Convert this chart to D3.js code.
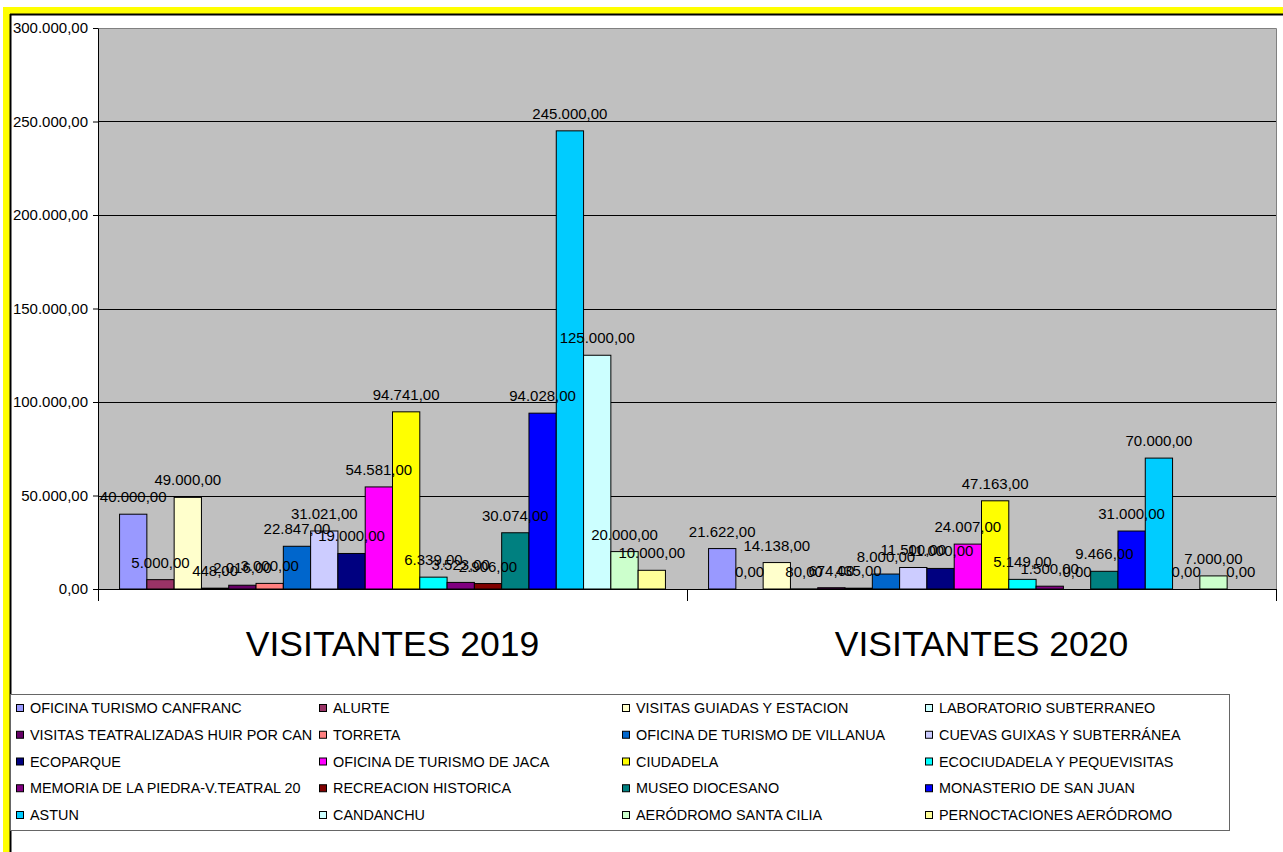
<!DOCTYPE html>
<html>
<head>
<meta charset="utf-8">
<script src="https://cdn.jsdelivr.net/npm/d3@7"></script>
<style>
  body { margin: 0; background: #fff; }
  svg { display: block; font-family: "Liberation Sans", Arial, sans-serif; }
</style>
</head>
<body>
<div id="chart"></div>
<script>
// Categories (the two years)
var categories = ["VISITANTES 2019", "VISITANTES 2020"];

// Series, in legend order
var seriesNames = [
  "OFICINA TURISMO CANFRANC", "ALURTE", "VISITAS GUIADAS Y ESTACION", "LABORATORIO SUBTERRANEO",
  "VISITAS TEATRALIZADAS HUIR POR CAN", "TORRETA", "OFICINA DE TURISMO DE VILLANUA", "CUEVAS GUIXAS Y SUBTERRÁNEA",
  "ECOPARQUE", "OFICINA DE TURISMO DE JACA", "CIUDADELA", "ECOCIUDADELA Y PEQUEVISITAS",
  "MEMORIA DE LA PIEDRA-V.TEATRAL 20", "RECREACION HISTORICA", "MUSEO DIOCESANO", "MONASTERIO DE SAN JUAN",
  "ASTUN", "CANDANCHU", "AERÓDROMO SANTA CILIA", "PERNOCTACIONES AERÓDROMO"
];
var seriesColors = [
  "#9999FF", "#993366", "#FFFFCC", "#CCFFFF",
  "#660066", "#FF8080", "#0066CC", "#CCCCFF",
  "#000080", "#FF00FF", "#FFFF00", "#00FFFF",
  "#800080", "#800000", "#008080", "#0000FF",
  "#00CCFF", "#CCFFFF", "#CCFFCC", "#FFFF99"
];

// Values per year, same order as seriesNames
var values2019 = [40000, 5000, 49000, 448, 2016, 3000, 22847, 31021, 19000, 54581,
                  94741, 6339, 3523, 2906, 30074, 94028, 245000, 125000, 20000, 10000];
var values2020 = [21622, 0, 14138, 80, 674, 435, 8000, 11500, 11000, 24007,
                  47163, 5149, 1500, 0, 9466, 31000, 70000, 0, 7000, 0];

var yTicks = [0, 50000, 100000, 150000, 200000, 250000, 300000];

var W = 1283, H = 852;
var plot = { left: 98, right: 1276, top: 28, bottom: 589 };

var locale = d3.formatLocale({ decimal: ",", thousands: ".", grouping: [3], currency: ["", ""] });
var fmt = locale.format(",.2f");

var svg = d3.select("#chart").append("svg")
    .attr("width", W)
    .attr("height", H);

// Yellow frame and chart area
svg.append("rect").attr("x", 3).attr("y", 7).attr("width", W).attr("height", H).attr("fill", "#FFFF00");
svg.append("rect").attr("x", 10).attr("y", 14).attr("width", W).attr("height", H).attr("fill", "#fff");
svg.append("line").attr("x1", 10).attr("x2", W).attr("y1", 14.5).attr("y2", 14.5).attr("stroke", "#000").attr("stroke-width", 2);
svg.append("line").attr("x1", 10.5).attr("x2", 10.5).attr("y1", 14).attr("y2", H).attr("stroke", "#000").attr("stroke-width", 2);

// Scales
var x0 = d3.scaleBand()
    .domain(categories)
    .range([plot.left, plot.right]);

var x1 = d3.scaleBand()
    .domain(d3.range(seriesNames.length))
    .range([0, x0.bandwidth()])
    .paddingInner(0)
    .paddingOuter(0.79);

var y = d3.scaleLinear()
    .domain([0, 300000])
    .range([plot.bottom, plot.top]);

// Plot background
svg.append("rect")
    .attr("x", plot.left).attr("y", plot.top)
    .attr("width", plot.right - plot.left).attr("height", plot.bottom - plot.top)
    .attr("fill", "#C0C0C0");

// Gridlines
svg.append("g").selectAll("line")
    .data(yTicks.filter(function(d) { return d > 0 && d < 300000; }))
    .enter().append("line")
    .attr("x1", plot.left).attr("x2", plot.right)
    .attr("y1", function(d) { return Math.round(y(d)) + 0.5; })
    .attr("y2", function(d) { return Math.round(y(d)) + 0.5; })
    .attr("stroke", "#000");

// Plot border top / right in gray
svg.append("path")
    .attr("d", "M" + plot.left + "," + (plot.top + 0.5) + "H" + (plot.right + 0.5) + "V" + plot.bottom)
    .attr("fill", "none")
    .attr("stroke", "#808080");

// Bars
var data = [values2019, values2020];
var groups = svg.append("g").selectAll("g")
    .data(categories)
    .enter().append("g")
    .attr("transform", function(c) { return "translate(" + x0(c) + ",0)"; });

groups.selectAll("rect")
    .data(function(c, ci) { return data[ci].map(function(v, i) { return { i: i, v: v }; }); })
    .enter().append("rect")
    .filter(function(d) { return d.v > 0; })
    .attr("x", function(d) { return x1(d.i); })
    .attr("y", function(d) { return y(d.v); })
    .attr("width", x1.bandwidth())
    .attr("height", function(d) { return y(0) - y(d.v); })
    .attr("fill", function(d) { return seriesColors[d.i]; })
    .attr("stroke", "#000")
    .attr("stroke-width", 1);

// Value labels
groups.selectAll("text")
    .data(function(c, ci) { return data[ci].map(function(v, i) { return { i: i, v: v }; }); })
    .enter().append("text")
    .attr("x", function(d) { return x1(d.i) + x1.bandwidth() / 2; })
    .attr("y", function(d) { return y(d.v) - 12; })
    .attr("text-anchor", "middle")
    .attr("font-size", 15)
    .attr("fill", "#000")
    .text(function(d) { return fmt(d.v); });

// Y axis
var yAxis = svg.append("g")
    .attr("transform", "translate(" + plot.left + ",0)")
    .call(d3.axisLeft(y).tickValues(yTicks).tickSize(5).tickSizeOuter(0).tickPadding(5).tickFormat(fmt));
yAxis.select(".domain").attr("stroke", "#000");
yAxis.selectAll(".tick line").attr("stroke", "#000");
yAxis.selectAll("text").attr("font-size", 15).attr("fill", "#000").attr("font-family", null);

// X axis
svg.append("line")
    .attr("x1", plot.left).attr("x2", plot.right + 1)
    .attr("y1", plot.bottom + 0.5).attr("y2", plot.bottom + 0.5)
    .attr("stroke", "#000");
var bounds = categories.map(function(c) { return x0(c); }).concat([plot.right]);
svg.append("g").selectAll("line")
    .data(bounds)
    .enter().append("line")
    .attr("x1", function(d) { return Math.round(d) + 0.5; })
    .attr("x2", function(d) { return Math.round(d) + 0.5; })
    .attr("y1", plot.bottom).attr("y2", plot.bottom + 12)
    .attr("stroke", "#000");

svg.append("g").selectAll("text")
    .data(categories)
    .enter().append("text")
    .attr("x", function(c) { return x0(c) + x0.bandwidth() / 2; })
    .attr("y", 656)
    .attr("text-anchor", "middle")
    .attr("font-size", 35.5)
    .attr("fill", "#000")
    .text(function(c) { return c; });

// Legend
svg.append("rect")
    .attr("x", 10.5).attr("y", 694.5)
    .attr("width", 1219).attr("height", 136)
    .attr("fill", "#fff")
    .attr("stroke", "#666");

var legend = svg.append("g").selectAll("g")
    .data(seriesNames)
    .enter().append("g")
    .attr("transform", function(d, i) {
        return "translate(" + (16 + (i % 4) * 303) + "," + (708 + Math.floor(i / 4) * 26.75) + ")";
    });

legend.append("rect")
    .attr("x", 0.5).attr("y", -3.5)
    .attr("width", 7).attr("height", 7)
    .attr("fill", function(d, i) { return seriesColors[i]; })
    .attr("stroke", "#000");

legend.append("text")
    .attr("x", 14)
    .attr("y", 5)
    .attr("font-size", 14.4)
    .attr("fill", "#000")
    .text(function(d) { return d; });
</script>
</body>
</html>
